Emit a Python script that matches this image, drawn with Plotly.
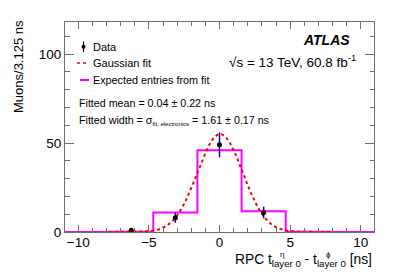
import numpy as np
import plotly.graph_objects as go

# ---- data ----
bin_edges = [-10.9375, -7.8125, -4.6875, -1.5625, 1.5625, 4.6875, 7.8125, 10.9375]
expected_entries = [0.0, 0.1, 10.9, 46.0, 11.7, 0.1, 0.0]
data_x = [-6.25, -3.125, 0.0, 3.125]
data_y = [1, 8, 49, 11]
data_err = [1.0, 2.8, 7.0, 3.3]
fit_mean = 0.04
fit_sigma = 1.61
fit_amplitude = 55.0
fit_range = [-7.8125, 7.8125]
x_ticks = [-10, -5, 0, 5, 10]
y_ticks = [0, 50, 100]

W, H = 407, 276
L, R, T, B = 65, 33, 22, 44
PW, PH = W - L - R, H - T - B


def px(x):
    return (x - L) / PW


def py(y):
    return (H - B - y) / PH


FONT = "Liberation Sans, Arial, sans-serif"
AX = "#6e6e6e"

fig = go.Figure()

# expected entries histogram (step)
fig.add_trace(go.Scatter(
    x=bin_edges, y=expected_entries + [expected_entries[-1]],
    mode="lines", line=dict(color="#ff00ff", width=2, shape="hv"),
    showlegend=False, hoverinfo="skip"))

# gaussian fit
gx = np.linspace(fit_range[0], fit_range[1], 300)
gy = fit_amplitude * np.exp(-0.5 * ((gx - fit_mean) / fit_sigma) ** 2)
fig.add_trace(go.Scatter(
    x=gx, y=gy, mode="lines",
    line=dict(color="#ff0000", width=2, dash="dot"),
    showlegend=False, hoverinfo="skip"))

# data
fig.add_trace(go.Scatter(
    x=data_x, y=data_y, mode="markers",
    marker=dict(color="black", size=5),
    error_y=dict(type="data", array=data_err, color="#0000cc", thickness=1.5, width=0),
    showlegend=False))

ann = []
shapes = []

# legend (manual, ROOT style)
shapes.append(dict(type="line", xref="paper", yref="paper",
                   x0=px(83.5), x1=px(83.5), y0=py(41.5), y1=py(52), line=dict(color="black", width=1.2)))
shapes.append(dict(type="circle", xref="paper", yref="paper",
                   x0=px(81.5), x1=px(85.5), y0=py(44.7), y1=py(48.7),
                   fillcolor="black", line=dict(color="black", width=0)))
shapes.append(dict(type="line", xref="paper", yref="paper",
                   x0=px(77), x1=px(89), y0=py(63), y1=py(63), line=dict(color="#ff0000", width=1.5, dash="dot")))
shapes.append(dict(type="line", xref="paper", yref="paper",
                   x0=px(80), x1=px(89), y0=py(80), y1=py(80), line=dict(color="#ff00ff", width=2)))

def text(t, x, y, size, xanchor="left", yanchor="middle", **kw):
    ann.append(dict(text=t, x=px(x), y=py(y), xref="paper", yref="paper",
                    xanchor=xanchor, yanchor=yanchor, showarrow=False,
                    font=dict(family=FONT, size=size, color="black"), **kw))

text("Data", 91, 47, 11)
text("Gaussian fit", 91, 63, 11)
text("Expected entries from fit", 91, 80, 10.8)
text("Fitted mean = 0.04 ± 0.22 ns", 77, 103.5, 10.7)
text("Fitted width = σ<sub><span style='font-size:6px'>fit, electronics</span></sub> = 1.61 ± 0.17 ns", 77, 120, 10.7)
text("<b><i>ATLAS</i></b>", 352, 39.5, 14, xanchor="right")
text("√s = 13 TeV, 60.8 fb<sup>-1</sup>", 358, 61, 13.5, xanchor="right")

# y title (top aligned, rotated)
text("Muons/3.125 ns", 18, 67, 13, xanchor="center", textangle=-90)

# x title
text("RPC t<sub>layer 0</sub> - t<sub>layer 0</sub> [ns]", 374, 260, 13.8, xanchor="right")
text("η", 278, 254, 8, xanchor="left")
text("ϕ", 324, 254, 8, xanchor="left")

fig.update_layout(
    width=W, height=H,
    margin=dict(l=L, r=R, t=T, b=B),
    plot_bgcolor="white", paper_bgcolor="white",
    font=dict(family=FONT, size=13.5, color="black"),
    annotations=ann, shapes=shapes,
    showlegend=False,
)
fig.update_xaxes(
    range=[bin_edges[0], bin_edges[-1]],
    tickvals=x_ticks, ticktext=[str(v).replace("-", "−") for v in x_ticks],
    ticks="inside", ticklen=7, tickwidth=1, tickcolor=AX,
    minor=dict(ticks="inside", dtick=1, ticklen=4, tickcolor=AX, tickwidth=1),
    showline=True, linecolor=AX, linewidth=1, mirror="ticks",
    showgrid=False, zeroline=False, ticklabelstandoff=-2,
    tickfont=dict(family=FONT, size=13.5, color="black"),
)
fig.update_yaxes(
    range=[0, 118],
    tickvals=y_ticks,
    ticks="inside", ticklen=9, tickwidth=1, tickcolor=AX,
    minor=dict(ticks="inside", dtick=10, ticklen=4.5, tickcolor=AX, tickwidth=1),
    showline=True, linecolor=AX, linewidth=1, mirror="ticks",
    showgrid=False, zeroline=False,
    tickfont=dict(family=FONT, size=13.5, color="black"),
)

fig.write_html("out.html", config={"displayModeBar": False},
               post_script="document.body.style.margin='0';document.body.style.padding='0';")
